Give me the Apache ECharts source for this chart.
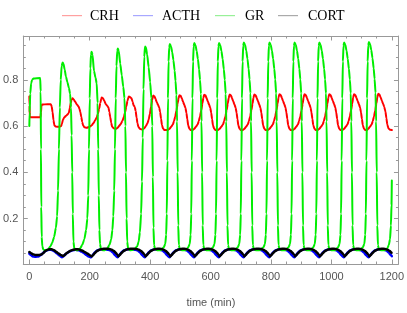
<!DOCTYPE html>
<html><head><meta charset="utf-8">
<script src="https://cdn.jsdelivr.net/npm/echarts@6/dist/echarts.min.js"></script>
<style>html,body{margin:0;padding:0;background:#fff}#c{width:407px;height:313px}</style>
</head><body><div id="c"></div>
<script>
const seriesNames = ['CRH', 'ACTH', 'GR', 'CORT'];
const xMajorTicks = [0, 200, 400, 600, 800, 1000, 1200];
const yMajorTicks = [0.2, 0.4, 0.6, 0.8];
const xMinorTicks = [0,50,100,150,200,250,300,350,400,450,500,550,600,650,700,750,800,850,900,950,1000,1050,1100,1150,1200];
const yMinorTicks = [0.05,0.1,0.15,0.2,0.25,0.3,0.35,0.4,0.45,0.5,0.55,0.6,0.65,0.7,0.75,0.8,0.85,0.9,0.95];

const CRH = [[0,.728],[0.7,.69],[1.5,.645],[3,.638],[37,.638],[38.5,.66],[40,.685],[42,.693],[60,.695],[71,.695],[74,.685],[77,.66],[80,.625],[83,.603],[87,.598],[100,.597],[105,.60],[108,.61],[111,.627],[116,.638],[122,.645],[128,.652],[131,.658],[134,.678],[137,.70],[140,.715],[143,.72],[147,.715],[152,.705],[158,.692],[163,.685],[166,.675],[169,.66],[172,.64],[175,.618],[178,.603],[182,.595],[190,.593],[200,.597],[206,.603],[212,.612],[218,.625],[223,.637],[227,.652],[231,.675],[235,.70],[238,.718],[240,.724],[244,.72],[248,.71],[253,.695],[258,.687],[262,.68],[265,.66],[268,.638],[271,.615],[274,.597],[280,.59],[286,.588],[292,.592],[297,.60],[302,.608],[308,.622],[313,.64],[317,.66],[321,.685],[325,.71],[329,.728],[333,.726],[338,.72],[342,.705],[345,.69],[349,.683],[352,.665],[355,.637],[358,.612],[361,.597],[366,.588],[372,.585],[380,.59],[386,.60],[391,.612],[395,.628],[399,.652],[403,.685],[407,.715],[410,.732],
[414,.729],[418,.717],[422,.703],[426,.692],[430,.68],[433,.66],[436,.632],[439,.605],[443,.588],[448,.583],
[457,.583],[463,.587],[469,.596],[475,.607],[479,.621],[483,.642],[487,.668],[491,.698],[494,.72],[497,.734],[501,.731],[505,.719],[509,.705],[513,.692],[517,.678],[520,.657],[523,.63],[526,.603],[530,.588],[535,.583],
[539,.582],[545,.587],[551,.596],[557,.607],[561,.621],[565,.642],[569,.668],[573,.698],[576,.722],[579,.736],[583,.733],[587,.72],[591,.706],[595,.693],[599,.679],[602,.658],[605,.63],[608,.603],[612,.588],[617,.583],
[623,.582],[629,.587],[635,.596],[641,.607],[645,.621],[649,.642],[653,.668],[657,.698],[660,.722],[663,.737],[667,.734],[671,.721],[675,.707],[679,.694],[683,.679],[686,.658],[689,.63],[692,.603],[696,.588],[701,.583],
[705,.582],[711,.587],[717,.596],[723,.607],[727,.621],[731,.642],[735,.668],[739,.698],[742,.723],[745,.737],[749,.734],[753,.721],[757,.707],[761,.694],[765,.679],[768,.658],[771,.63],[774,.603],[778,.588],[783,.583],
[788,.582],[794,.587],[800,.596],[806,.607],[810,.621],[814,.642],[818,.668],[822,.698],[825,.724],[828,.738],[832,.735],[836,.722],[840,.708],[844,.695],[848,.68],[851,.659],[854,.631],[857,.604],[861,.588],[866,.583],
[871,.582],[877,.587],[883,.596],[889,.607],[893,.621],[897,.642],[901,.668],[905,.698],[908,.724],[911,.738],[915,.735],[919,.722],[923,.708],[927,.695],[931,.68],[934,.659],[937,.631],[940,.604],[944,.588],[949,.583],
[953,.582],[959,.587],[965,.596],[971,.607],[975,.621],[979,.642],[983,.668],[987,.698],[990,.724],[993,.738],[997,.735],[1001,.722],[1005,.708],[1009,.695],[1013,.68],[1016,.659],[1019,.631],[1022,.604],[1026,.588],[1031,.583],
[1035,.582],[1041,.587],[1047,.596],[1053,.607],[1057,.621],[1061,.642],[1065,.668],[1069,.698],[1072,.724],[1075,.738],[1079,.735],[1083,.722],[1087,.708],[1091,.695],[1095,.68],[1098,.659],[1101,.631],[1104,.604],[1108,.588],[1113,.583],
[1117,.582],[1121,.587],[1127,.596],[1133,.607],[1137,.621],[1141,.642],[1145,.668],[1149,.698],[1152,.725],[1155,.74],[1159,.737],[1163,.724],[1167,.71],[1171,.697],[1175,.683],[1179,.662],[1182,.634],[1185,.607],[1189,.59],[1194,.584],[1200,.583]];

const ACTH = [[0,.048],[5,.042],[12,.036],[20,.034],[30,.036],[38,.042],[45,.05],[52,.058],[60,.063],[68,.065],[76,.063],[84,.057],[92,.048],[100,.04],[105,.035],[108,.032],[112,.036],[118,.043],[125,.051],[133,.057],[142,.062],[153,.065],[164,.063],[173,.057],[181,.05],[189,.042],[196,.036],[204,.032],
[208,.038],[213,.047],[219,.056],[226,.062],[234,.066],[244,.067],[262,.065],[270,.06],[277,.052],[283,.043],[288,.036],[292,.032],
[296,.038],[301,.047],[307,.056],[314,.062],[322,.066],[332,.067],[352,.065],[360,.06],[367,.052],[373,.043],[378,.036],[382,.032],
[386,.038],[391,.047],[397,.056],[404,.062],[412,.066],[422,.067],[434,.065],[442,.06],[449,.052],[455,.043],[460,.036],[464,.032],
[468,.038],[473,.047],[479,.056],[486,.062],[494,.066],[504,.067],[515,.065],[523,.06],[530,.052],[536,.043],[541,.036],[545,.032],
[549,.038],[554,.047],[560,.056],[567,.062],[575,.066],[585,.067],[597,.065],[605,.06],[612,.052],[618,.043],[623,.036],[627,.032],
[631,.038],[636,.047],[642,.056],[649,.062],[657,.066],[667,.067],[679,.065],[687,.06],[694,.052],[700,.043],[705,.036],[709,.032],
[713,.038],[718,.047],[724,.056],[731,.062],[739,.066],[749,.067],[764,.065],[772,.06],[779,.052],[785,.043],[790,.036],[794,.032],
[798,.038],[803,.047],[809,.056],[816,.062],[824,.066],[834,.067],[847,.065],[855,.06],[862,.052],[868,.043],[873,.036],[877,.032],
[881,.038],[886,.047],[892,.056],[899,.062],[907,.066],[917,.067],[929,.065],[937,.06],[944,.052],[950,.043],[955,.036],[959,.032],
[963,.038],[968,.047],[974,.056],[981,.062],[989,.066],[999,.067],[1011,.065],[1019,.06],[1026,.052],[1032,.043],[1037,.036],[1041,.032],
[1045,.038],[1050,.047],[1056,.056],[1063,.062],[1071,.066],[1081,.067],[1093,.065],[1101,.06],[1108,.052],[1114,.043],[1119,.036],[1123,.032],
[1127,.038],[1132,.047],[1138,.056],[1145,.062],[1153,.066],[1163,.067],[1175,.065],[1183,.06],[1190,.052],[1196,.043],[1200,.037]];

const GR = [[0,.60],[1,.66],[3,.74],[6,.785],[9,.80],[14,.806],[36,.808],[37.5,.75],[38.5,.5],[39.5,.25],[41,.12],[43,.08],[46,.066],[55,.062],
[62,.066],[70,.08],[76,.095],[82,.12],[88,.16],[92,.21],[95,.32],[98,.5],[101,.68],[104,.80],[107,.86],[110,.875],[113,.87],[117,.845],[121,.815],[126,.79],[131,.765],[135,.74],[138,.68],[140,.56],[142,.40],[144,.22],[146,.10],[149,.07],[155,.063],
[160,.063],[168,.07],[175,.085],[182,.11],[188,.15],[192,.20],[195,.30],[197.5,.50],[200,.72],[202,.85],[204,.91],[206,.922],[209,.91],[214,.84],[219,.81],[223,.785],[226,.70],[228,.50],[230,.30],[232,.15],[234,.09],[237,.068],[245,.062],
[250,.063],[258,.07],[265,.085],[271,.11],[275,.15],[278,.21],[281,.32],[283.5,.50],[286,.72],[288.5,.86],[291,.925],[293,.936],[296,.925],[301,.87],[306,.82],[311,.77],[315,.72],[318,.60],[320,.40],[322,.20],[324,.10],[327,.07],[335,.062],
[342,.064],[350,.07],[357,.08],[362,.10],[366,.14],[370,.22],[373,.36],[375.5,.55],[378,.76],[380.5,.90],[383,.945],[386,.94],[390,.91],[395,.855],[400,.79],[404,.72],[407,.60],[409,.38],[411,.16],[413,.085],[416,.068],[425,.062],[435,.063],
[445,.075],[450,.09],[453,.13],[455,.22],[457,.45],[459,.72],[461,.88],[463,.94],[465,.955],[469,.945],[473,.92],[477,.885],[481,.84],[484,.795],[487,.735],[489,.62],[491,.40],[493,.17],[495,.085],[498,.067],[507,.062],[517,.063],
[526,.075],[531,.09],[534,.13],[536,.22],[538,.45],[540,.72],[542,.88],[544,.945],[546,.96],[550,.95],[554,.925],[558,.89],[562,.845],[565,.80],[568,.74],[570,.62],[572,.40],[574,.17],[576,.085],[579,.067],[588,.062],[598,.063],
[608,.075],[613,.09],[616,.13],[618,.22],[620,.45],[622,.72],[624,.88],[626,.945],[628,.96],[632,.95],[636,.925],[640,.89],[644,.845],[647,.80],[650,.74],[652,.62],[654,.40],[656,.17],[658,.085],[661,.067],[670,.062],[680,.063],
[690,.075],[695,.09],[698,.13],[700,.22],[702,.45],[704,.72],[706,.88],[708,.947],[710,.962],[714,.952],[718,.927],[722,.892],[726,.847],[729,.802],[732,.742],[734,.62],[736,.40],[738,.17],[740,.085],[743,.067],[752,.062],[762,.063],
[775,.075],[780,.09],[783,.13],[785,.22],[787,.45],[789,.72],[791,.88],[793,.947],[795,.962],[799,.952],[803,.927],[807,.892],[811,.847],[814,.802],[817,.742],[819,.62],[821,.40],[823,.17],[825,.085],[828,.067],[837,.062],[847,.063],
[858,.075],[863,.09],[866,.13],[868,.22],[870,.45],[872,.72],[874,.88],[876,.947],[878,.962],[882,.952],[886,.927],[890,.892],[894,.847],[897,.802],[900,.742],[902,.62],[904,.40],[906,.17],[908,.085],[911,.067],[920,.062],[930,.063],
[940,.075],[945,.09],[948,.13],[950,.22],[952,.45],[954,.72],[956,.88],[958,.947],[960,.962],[964,.952],[968,.927],[972,.892],[976,.847],[979,.802],[982,.742],[984,.62],[986,.40],[988,.17],[990,.085],[993,.067],[1002,.062],[1012,.063],
[1022,.075],[1027,.09],[1030,.13],[1032,.22],[1034,.45],[1036,.72],[1038,.88],[1040,.947],[1042,.962],[1046,.952],[1050,.927],[1054,.892],[1058,.847],[1061,.802],[1064,.742],[1066,.62],[1068,.40],[1070,.17],[1072,.085],[1075,.067],[1084,.062],[1094,.063],
[1104,.075],[1109,.09],[1112,.13],[1114,.22],[1116,.45],[1118,.72],[1120,.88],[1122,.949],[1124,.964],[1128,.954],[1132,.929],[1136,.894],[1140,.849],[1143,.804],[1146,.744],[1148,.62],[1150,.40],[1152,.17],[1154,.085],[1157,.067],[1166,.062],[1176,.063],
[1185,.07],[1190,.085],[1194,.11],[1197,.17],[1199,.26],[1200,.364]];

const CORT = [[0,.055],[6,.05],[12,.045],[20,.042],[32,.042],[40,.044],[46,.05],[52,.058],[58,.064],[66,.067],[74,.067],[82,.062],[90,.055],[97,.048],[104,.042],[111,.038],[116,.041],[122,.048],[128,.054],[136,.06],[145,.065],[155,.067],[165,.066],[175,.061],[183,.055],[190,.05],[197,.044],[203,.039],[207,.036],
[211,.041],[216,.049],[222,.057],[229,.063],[237,.067],[247,.069],[265,.068],[273,.065],[280,.059],[286,.052],[291,.044],[295,.036],
[299,.041],[304,.049],[310,.057],[317,.063],[325,.067],[335,.069],[355,.068],[363,.065],[370,.059],[376,.052],[381,.044],[385,.036],
[389,.041],[394,.049],[400,.057],[407,.063],[415,.067],[425,.069],[437,.068],[445,.065],[452,.059],[458,.052],[463,.044],[467,.036],
[471,.041],[476,.049],[482,.057],[489,.063],[497,.067],[507,.069],[518,.068],[526,.065],[533,.059],[539,.052],[544,.044],[548,.036],
[552,.041],[557,.049],[563,.057],[570,.063],[578,.067],[588,.069],[600,.068],[608,.065],[615,.059],[621,.052],[626,.044],[630,.036],
[634,.041],[639,.049],[645,.057],[652,.063],[660,.067],[670,.069],[682,.068],[690,.065],[697,.059],[703,.052],[708,.044],[712,.036],
[716,.041],[721,.049],[727,.057],[734,.063],[742,.067],[752,.069],[767,.068],[775,.065],[782,.059],[788,.052],[793,.044],[797,.036],
[801,.041],[806,.049],[812,.057],[819,.063],[827,.067],[837,.069],[850,.068],[858,.065],[865,.059],[871,.052],[876,.044],[880,.036],
[884,.041],[889,.049],[895,.057],[902,.063],[910,.067],[920,.069],[932,.068],[940,.065],[947,.059],[953,.052],[958,.044],[962,.036],
[966,.041],[971,.049],[977,.057],[984,.063],[992,.067],[1002,.069],[1014,.068],[1022,.065],[1029,.059],[1035,.052],[1040,.044],[1044,.036],
[1048,.041],[1053,.049],[1059,.057],[1066,.063],[1074,.067],[1084,.069],[1096,.068],[1104,.065],[1111,.059],[1117,.052],[1122,.044],[1126,.036],
[1130,.041],[1135,.049],[1141,.057],[1148,.063],[1156,.067],[1166,.069],[1178,.068],[1186,.065],[1193,.059],[1199,.052],[1200,.051]];

const lineColors = ['#ff0000', '#0000ff', '#00ee00', '#000000'];
const legendColors = ['#ffa0a0', '#a8a8ff', '#98f098', '#aaaaaa'];
const lineWidths = [2, 2.5, 2, 2.5];
const seriesData = [CRH, ACTH, GR, CORT];

const X_MIN = -20, X_MAX = 1222, Y_MIN = 0.003, Y_MAX = 0.99;
const frameColor = '#999999';
const labelColor = '#555555';

function xAx(pos, ticks, len, labels, showLine) {
  return {
    type: 'value', position: pos, min: X_MIN, max: X_MAX,
    axisLine: {show: showLine, onZero: false, lineStyle: {color: frameColor, width: 1}},
    axisTick: {show: true, inside: true, length: len, customValues: ticks, lineStyle: {color: frameColor}},
    axisLabel: labels ? {show: true, customValues: xMajorTicks, color: labelColor, fontSize: 11, fontFamily: 'Liberation Sans', margin: 7, formatter: v => String(v)} : {show: false},
    splitLine: {show: false}
  };
}
function yAx(pos, ticks, len, labels, showLine) {
  return {
    type: 'value', position: pos, min: Y_MIN, max: Y_MAX,
    axisLine: {show: showLine, onZero: false, lineStyle: {color: frameColor, width: 1}},
    axisTick: {show: true, inside: true, length: len, customValues: ticks, lineStyle: {color: frameColor}},
    axisLabel: labels ? {show: true, customValues: yMajorTicks, color: labelColor, fontSize: 11, fontFamily: 'Liberation Sans', margin: 5, formatter: v => v.toFixed(1)} : {show: false},
    splitLine: {show: false}
  };
}

const xMain = xAx('bottom', xMajorTicks, 4.5, true, true);
xMain.name = 'time (min)';
xMain.nameLocation = 'middle';
xMain.nameGap = 33;
xMain.nameTextStyle = {color: labelColor, fontSize: 11, fontFamily: 'Liberation Sans'};

// legend drawn as graphic elements
const legendSwatchX = [62, 133, 215, 278];
const legendTextX = [90, 162, 245, 308];
const legendGraphics = [];
seriesNames.forEach((n, i) => {
  legendGraphics.push({type: 'rect', shape: {x: legendSwatchX[i], y: 15, width: 20, height: 1.2}, style: {fill: legendColors[i], stroke: null}, silent: true, z: 10});
  legendGraphics.push({type: 'text', x: legendTextX[i], y: 16.5, style: {text: n, fill: '#000', font: '14px "Liberation Serif"', verticalAlign: 'middle'}, silent: true, z: 10});
});

const chart = echarts.init(document.getElementById('c'), null, {renderer: 'canvas'});
chart.setOption({
  animation: false,
  backgroundColor: '#ffffff',
  grid: {left: 20, right: 7, top: 36, bottom: 42, containLabel: false},
  graphic: {elements: legendGraphics},
  xAxis: [xMain, xAx('bottom', xMinorTicks, 2.5, false, false), xAx('top', xMajorTicks, 4.5, false, true), xAx('top', xMinorTicks, 2.5, false, false)],
  yAxis: [yAx('left', yMajorTicks, 4.5, true, true), yAx('left', yMinorTicks, 2.5, false, false), yAx('right', yMajorTicks, 4.5, false, true), yAx('right', yMinorTicks, 2.5, false, false)],
  series: seriesNames.map((n, i) => ({
    name: n, type: 'line', xAxisIndex: 0, yAxisIndex: 0,
    data: seriesData[i], symbol: 'none', showSymbol: false, smooth: 0.2, smoothMonotone: 'x',
    lineStyle: {color: lineColors[i], width: lineWidths[i], join: 'round', cap: 'round'},
    emphasis: {disabled: true}
  }))
});
</script></body></html>
